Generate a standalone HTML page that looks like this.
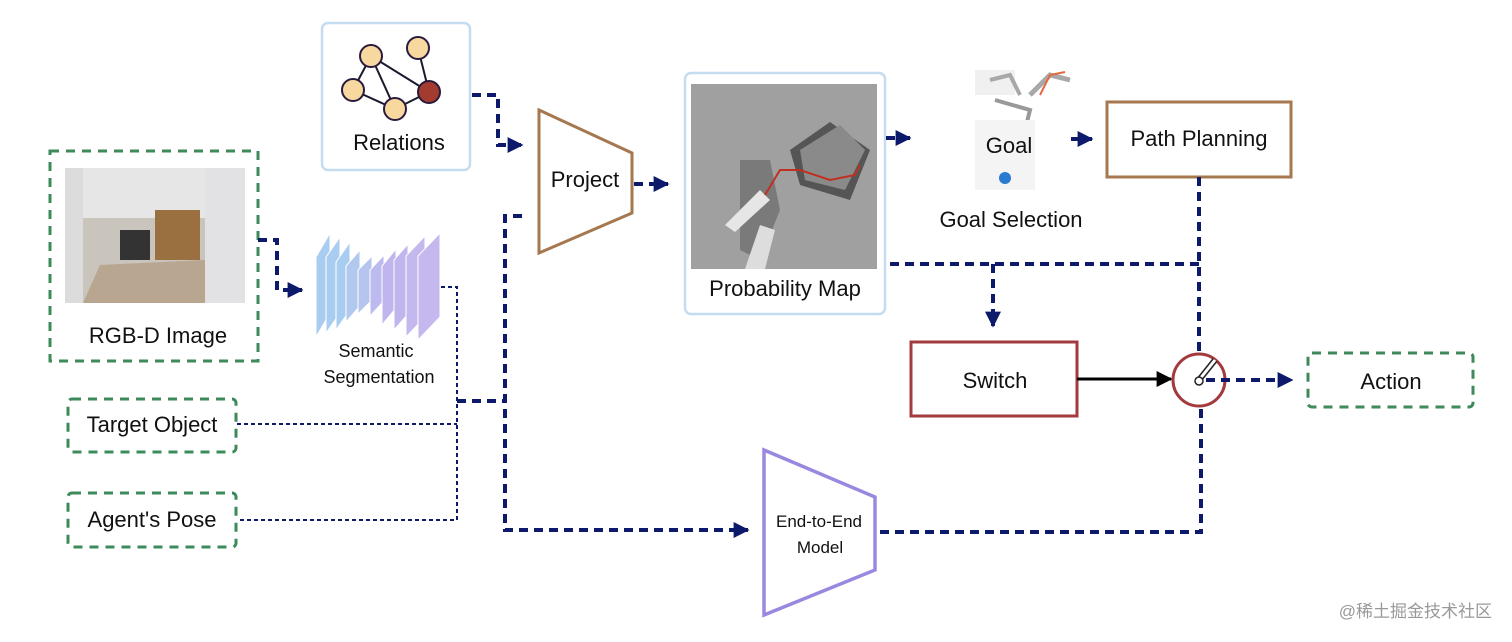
<!DOCTYPE html>
<html><head><meta charset="utf-8"><style>
body{margin:0;background:#fff}
svg{display:block}
text{font-family:"Liberation Sans",sans-serif;fill:#111}
</style></head><body>
<svg width="1512" height="642" viewBox="0 0 1512 642" xmlns="http://www.w3.org/2000/svg">
<defs>
<marker id="ab" viewBox="0 0 10 10" markerWidth="16" markerHeight="16" refX="9" refY="5" orient="auto" markerUnits="userSpaceOnUse"><path d="M0,0 L10,5 L0,10 z" fill="#0d1a6b"/></marker>
<marker id="ak" viewBox="0 0 10 10" markerWidth="16" markerHeight="16" refX="9" refY="5" orient="auto" markerUnits="userSpaceOnUse"><path d="M0,0 L10,5 L0,10 z" fill="#000"/></marker>
</defs>

<rect x="322" y="23" width="148" height="147" rx="6" fill="#fff" stroke="#c4dcf0" stroke-width="2.5"/>
<g stroke="#1a1a2e" stroke-width="2">
<line x1="371" y1="56" x2="353" y2="90"/><line x1="371" y1="56" x2="395" y2="109"/><line x1="371" y1="56" x2="429" y2="92"/>
<line x1="353" y1="90" x2="395" y2="109"/><line x1="395" y1="109" x2="429" y2="92"/><line x1="418" y1="48" x2="429" y2="92"/>
</g>
<g stroke="#2a1a3e" stroke-width="2" fill="#f7d9a0">
<circle cx="371" cy="56" r="11"/><circle cx="418" cy="48" r="11"/><circle cx="353" cy="90" r="11"/><circle cx="395" cy="109" r="11"/>
<circle cx="429" cy="92" r="11" fill="#a33b2e"/>
</g>
<text x="399" y="150" font-size="22" text-anchor="middle">Relations</text>

<rect x="50" y="151" width="208" height="210" fill="none" stroke="#3d8a5a" stroke-width="3" stroke-dasharray="9,7"/>
<rect x="65" y="168" width="180" height="135" fill="#c9c4bc"/>
<rect x="65" y="168" width="18" height="135" fill="#dcdcdc"/>
<rect x="205" y="168" width="40" height="135" fill="#e2e2e4"/>
<rect x="83" y="168" width="122" height="50" fill="#e6e6e6"/>
<rect x="120" y="230" width="30" height="30" fill="#333"/>
<rect x="155" y="210" width="45" height="50" fill="#9a7040"/>
<polygon points="83,303 205,303 205,260 100,265" fill="#b8a690"/>
<text x="158" y="343" font-size="22" text-anchor="middle">RGB-D Image</text>

<g stroke="#fff" stroke-width="1">
<polygon points="316,257 330,233 330,313 316,337" fill="#a9cdf0"/>
<polygon points="326,257 340,237 340,313 326,333" fill="#a9cdf0"/>
<polygon points="336,262 350,242 350,310 336,330" fill="#a9cdf0"/>
<polygon points="346,266 360,250 360,306 346,322" fill="#b1c9ee"/>
<polygon points="358,270 372,256 372,300 358,314" fill="#b6c4ee"/>
<polygon points="370,270 384,255 384,301 370,316" fill="#bcbaee"/>
<polygon points="382,266 396,249 396,308 382,325" fill="#c0b5ec"/>
<polygon points="394,260 408,244 408,314 394,330" fill="#c0b5ec"/>
<polygon points="406,256 425,236 425,317 406,337" fill="#c4b8ee"/>
<polygon points="418,256 440,233 440,317 418,340" fill="#c4b8ee"/>
</g>
<text x="376" y="357" font-size="18" text-anchor="middle">Semantic</text>
<text x="379" y="383" font-size="18" text-anchor="middle">Segmentation</text>

<rect x="68" y="399" width="168" height="53" rx="4" fill="none" stroke="#3d8a5a" stroke-width="3" stroke-dasharray="9,7"/>
<text x="152" y="432" font-size="22" text-anchor="middle">Target Object</text>
<rect x="68" y="493" width="168" height="54" rx="4" fill="none" stroke="#3d8a5a" stroke-width="3" stroke-dasharray="9,7"/>
<text x="152" y="527" font-size="22" text-anchor="middle">Agent's Pose</text>

<polygon points="539,110 632,153 632,213 539,253" fill="#fff" stroke="#a57850" stroke-width="3"/>
<text x="585" y="187" font-size="22" text-anchor="middle">Project</text>

<rect x="685" y="73" width="200" height="241" rx="6" fill="#fff" stroke="#c4dcf0" stroke-width="2.5"/>
<rect x="691" y="84" width="186" height="185" fill="#a0a0a0"/>
<polygon points="790,150 830,122 870,150 850,200 800,185" fill="#555"/>
<polygon points="800,150 840,125 865,150 845,190 805,180" fill="#8a8a8a"/>
<polygon points="740,160 770,160 780,210 760,260 740,250" fill="#7a7a7a"/>
<polygon points="725,225 760,190 770,200 735,232" fill="#e6e6e6"/>
<polygon points="745,269 760,225 775,230 765,269" fill="#ddd"/>
<polyline points="765,195 780,170 800,170 830,180 855,175 860,165" fill="none" stroke="#c03020" stroke-width="2"/>
<text x="785" y="296" font-size="22" text-anchor="middle">Probability Map</text>

<g opacity="0.85">
<rect x="975" y="70" width="40" height="25" fill="#eee"/>
<path d="M990,80 L1010,75 L1020,95" stroke="#999" stroke-width="4" fill="none"/>
<path d="M1030,95 L1050,75 L1070,80" stroke="#999" stroke-width="5" fill="none"/>
<path d="M1040,95 L1050,75 L1065,72" stroke="#e05020" stroke-width="2" fill="none"/>
<path d="M995,100 L1030,110 L1020,150" stroke="#888" stroke-width="4" fill="none"/>
<rect x="975" y="120" width="60" height="70" fill="#f3f3f3"/>
</g>
<text x="1009" y="153" font-size="22" text-anchor="middle">Goal</text>
<circle cx="1005" cy="178" r="6" fill="#2a7bd0"/>
<text x="1011" y="227" font-size="22" text-anchor="middle">Goal Selection</text>

<rect x="1107" y="102" width="184" height="75" fill="#fff" stroke="#a57850" stroke-width="3"/>
<text x="1199" y="146" font-size="22" text-anchor="middle">Path Planning</text>

<rect x="911" y="342" width="166" height="74" fill="#fff" stroke="#a33b3e" stroke-width="3"/>
<text x="995" y="388" font-size="22" text-anchor="middle">Switch</text>

<g fill="none" stroke="#0d1a6b" stroke-width="4" stroke-dasharray="9,6">
<polyline points="472,95 498,95 498,145 522,145" marker-end="url(#ab)"/>
<polyline points="258,240 277,240 277,290 302,290" marker-end="url(#ab)"/>
<polyline points="634,184 668,184" marker-end="url(#ab)"/>
<polyline points="886,138 910,138" marker-end="url(#ab)"/>
<polyline points="1071,139 1092,139" marker-end="url(#ab)"/>
<polyline points="457,401 505,401"/>
<polyline points="522,216 505,216 505,530 748,530" marker-end="url(#ab)"/>
<polyline points="890,264 1199,264"/>
<polyline points="1199,177 1199,352"/>
<polyline points="993,264 993,326" marker-end="url(#ab)"/>
<polyline points="880,532 1201,532 1201,407"/>
</g>

<circle cx="1199" cy="380" r="26" fill="#fff" stroke="#a33b3e" stroke-width="3"/>
<line x1="1199" y1="380" x2="1215" y2="360" stroke="#222" stroke-width="6"/>
<line x1="1199" y1="380" x2="1215" y2="360" stroke="#fff" stroke-width="3"/>
<circle cx="1199" cy="381" r="4" fill="#fff" stroke="#222" stroke-width="1.5"/>
<polyline points="1206,380 1292,380" fill="none" stroke="#0d1a6b" stroke-width="4" stroke-dasharray="9,6" marker-end="url(#ab)"/>

<rect x="1308" y="353" width="165" height="54" rx="4" fill="none" stroke="#3d8a5a" stroke-width="3" stroke-dasharray="9,7"/>
<text x="1391" y="389" font-size="22" text-anchor="middle">Action</text>

<polygon points="764,450 875,497 875,570 764,615" fill="#fff" stroke="#9a88e0" stroke-width="3.5"/>
<text x="819" y="527" font-size="17" text-anchor="middle">End-to-End</text>
<text x="820" y="553" font-size="17" text-anchor="middle">Model</text>

<g fill="none" stroke="#0d1a6b" stroke-width="2" stroke-dasharray="4,3">
<polyline points="441,287 457,287 457,520 237,520"/>
<polyline points="237,424 457,424"/>
</g>
<line x1="1077" y1="379" x2="1171" y2="379" stroke="#000" stroke-width="3" marker-end="url(#ak)"/>

<text x="1492" y="617" font-size="17" text-anchor="end" style="fill:#999" font-family="Liberation Sans,Noto Sans CJK SC,sans-serif">@稀土掘金技术社区</text>
</svg>
</body></html>
